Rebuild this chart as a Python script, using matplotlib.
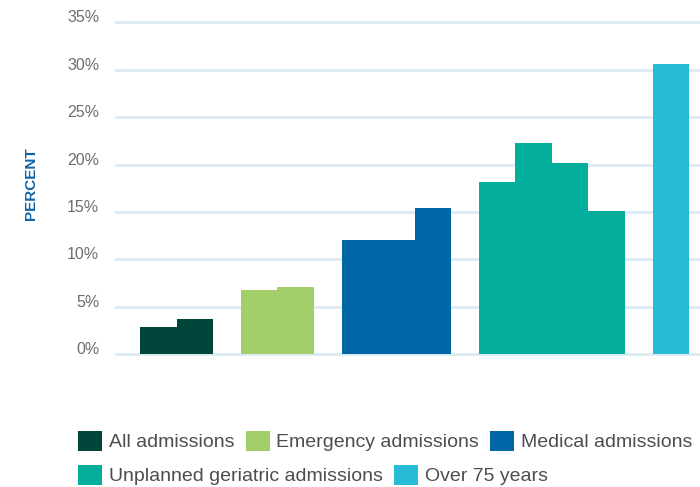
import matplotlib
matplotlib.use("Agg")
import matplotlib.pyplot as plt
from matplotlib.patches import Patch
import numpy as np

plt.rcParams['font.family'] = ['Liberation Sans', 'DejaVu Sans']

groups = ['All admissions', 'Emergency admissions', 'Medical admissions',
          'Unplanned geriatric admissions', 'Over 75 years']
all_admissions = [2.85, 3.7]
emergency_admissions = [6.8, 7.1]
medical_admissions = [12.0, 12.0, 15.4]
unplanned_geriatric = [18.2, 22.3, 20.2, 15.1]
over_75 = [30.6]
series = [all_admissions, emergency_admissions, medical_admissions,
          unplanned_geriatric, over_75]
colors = ['#00463a', '#a2cf6a', '#0066a6', '#03ae9d', '#27bcd6']
yticks = [0, 5, 10, 15, 20, 25, 30, 35]
ytick_labels = [f'{v}%' for v in yticks]

fig = plt.figure(figsize=(7.0, 4.87), dpi=100)
ax = fig.add_axes([116/700, 132.7/487, 584/700, 332/487])

gap = 0.76
start = 0.0
for vals, col in zip(series, colors):
    x = start + np.arange(len(vals))
    ax.bar(x, vals, width=1.0, align='edge', color=col, linewidth=0, zorder=3)
    start += len(vals) + gap
total = start - gap

ax.set_xlim(-0.66, total + 0.3)
ax.set_ylim(0, 35)
ax.set_yticks(yticks)
ax.set_yticklabels(ytick_labels, fontsize=11.5, color='#6e6e6e')
for lab in ax.get_yticklabels():
    lab.set_va('baseline')
ax.tick_params(axis='y', length=0, pad=12)
ax.set_xticks([])
ax.grid(axis='y', color='#d8ebf3', linewidth=2.0, zorder=0)
ax.set_axisbelow(True)
for s in ax.spines.values():
    s.set_visible(False)
ax.patch.set_alpha(0)
for gl in ax.get_ygridlines():
    gl.set_clip_on(False)

fig.text(31/700, 1 - 184/487, 'PERCENT', rotation=90, color='#1064a6',
         fontsize=11, fontweight='bold', ha='center', va='center')

handles = [Patch(facecolor=c, edgecolor='none') for c in colors]
fs = 14
fs_px = fs / 72 * 100
common = dict(frameon=False, fontsize=fs, borderpad=0, borderaxespad=0,
              handlelength=24/fs_px, handleheight=24/fs_px,
              handletextpad=7/fs_px, columnspacing=11/fs_px,
              loc='center left', labelcolor='#4d4d4d')
leg1 = fig.legend(handles[:3], groups[:3], ncol=3,
                  bbox_to_anchor=(78/700, 1 - 441/487), **common)
leg2 = fig.legend(handles[3:], groups[3:], ncol=2,
                  bbox_to_anchor=(78/700, 1 - 475/487), **common)

fig.savefig('out.png', dpi=100)
